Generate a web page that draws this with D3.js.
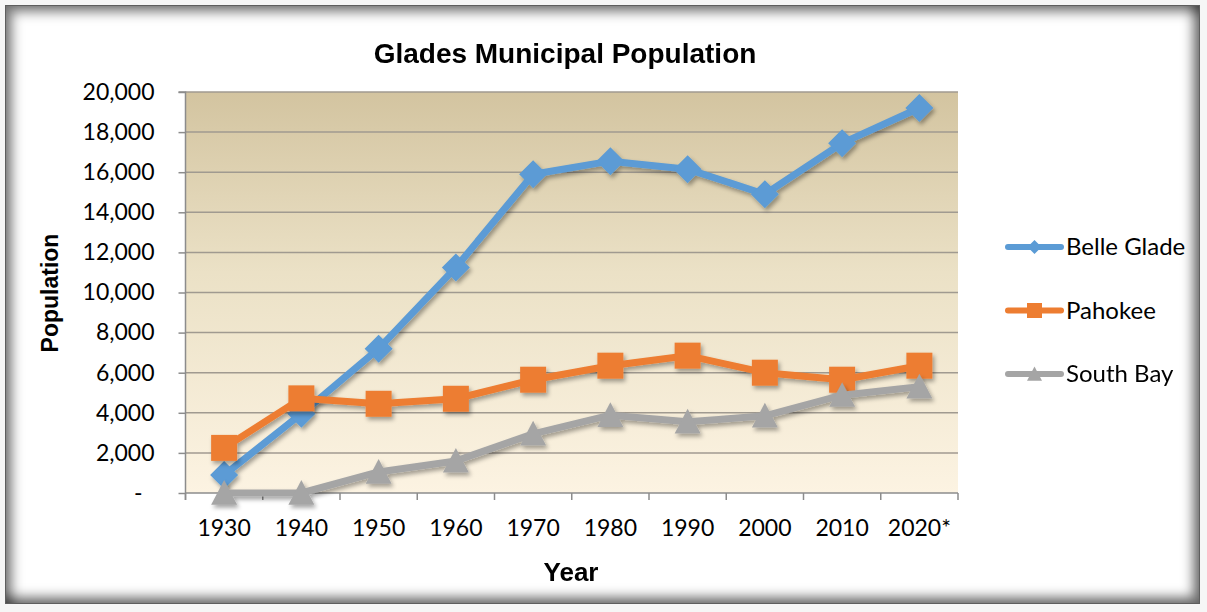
<!DOCTYPE html>
<html>
<head>
<meta charset="utf-8">
<script src="https://cdn.jsdelivr.net/npm/d3@7"></script>
<style>
  body { margin: 0; background: #fff; }
  #wrap { position: relative; width: 1207px; height: 612px; background: #f6f6f6; }
  #frame {
    position: absolute; left: 5px; top: 5px; width: 1193px; height: 597px;
    background: #fff; border: 1px solid #5e5e5e;
    box-shadow: inset 6px 6px 12px rgba(0,0,0,0.5), inset -6px -6px 12px rgba(0,0,0,0.55);
  }
  svg { position: absolute; left: 0; top: 0; }
</style>
</head>
<body>
<div id="wrap"><div id="frame"></div><div id="chart"></div></div>
<script>
const categories = ["1930", "1940", "1950", "1960", "1970", "1980", "1990", "2000", "2010", "2020*"];
const belleGlade = [900, 3950, 7200, 11250, 15900, 16550, 16150, 14900, 17450, 19200];
const pahokee = [2250, 4720, 4450, 4700, 5650, 6350, 6850, 6000, 5650, 6350];
const southBay = [0, 0, 1050, 1600, 2950, 3880, 3550, 3850, 4880, 5300];
const yTicks = [0, 2000, 4000, 6000, 8000, 10000, 12000, 14000, 16000, 18000, 20000];

const series = [
  { name: "Belle Glade", values: belleGlade, color: "#5b9bd5", marker: "diamond" },
  { name: "Pahokee", values: pahokee, color: "#ed7d31", marker: "square" },
  { name: "South Bay", values: southBay, color: "#a5a5a5", marker: "triangle" }
];

const width = 1207, height = 612;
const plot = { left: 185.5, right: 958, top: 92, bottom: 493 };

const svg = d3.select("#chart").append("svg")
  .attr("width", width)
  .attr("height", height);

const defs = svg.append("defs");
const grad = defs.append("linearGradient")
  .attr("id", "bg").attr("x1", 0).attr("y1", 0).attr("x2", 0).attr("y2", 1);
grad.append("stop").attr("offset", "0%").attr("stop-color", "#d3c4a0");
grad.append("stop").attr("offset", "45%").attr("stop-color", "#ebe1c6");
grad.append("stop").attr("offset", "100%").attr("stop-color", "#fcf3e2");

const shadow = defs.append("filter").attr("id", "shadow")
  .attr("x", "-30%").attr("y", "-30%").attr("width", "160%").attr("height", "160%");
shadow.append("feDropShadow")
  .attr("dx", 2).attr("dy", 3).attr("stdDeviation", 2)
  .attr("flood-color", "#000").attr("flood-opacity", 0.35);

const x = d3.scaleBand().domain(categories).range([plot.left, plot.right]);
const y = d3.scaleLinear().domain([0, 20000]).range([plot.bottom, plot.top]);
const cx = c => x(c) + x.bandwidth() / 2;

// plot background
svg.append("rect")
  .attr("x", plot.left).attr("y", plot.top)
  .attr("width", plot.right - plot.left).attr("height", plot.bottom - plot.top)
  .attr("fill", "url(#bg)");

// gridlines
svg.append("g")
  .selectAll("line")
  .data(yTicks.filter(d => d > 0))
  .enter().append("line")
  .attr("x1", plot.left).attr("x2", plot.right)
  .attr("y1", d => y(d)).attr("y2", d => y(d))
  .attr("stroke", "#a09a90").attr("stroke-width", 1.5);

// y axis
const yAxis = d3.axisLeft(y)
  .tickValues(yTicks)
  .tickSize(7)
  .tickPadding(24)
  .tickFormat(d => d === 0 ? "-" : d3.format(",")(d));
const gy = svg.append("g")
  .attr("transform", `translate(${plot.left},0)`)
  .call(yAxis);
gy.select(".domain").attr("stroke", "#8c8c8c").attr("stroke-width", 1.5)
  .attr("d", `M-7,${plot.top}H0V${plot.bottom + 7}`);
gy.selectAll(".tick line").attr("stroke", "#8c8c8c").attr("stroke-width", 1.5);
gy.selectAll(".tick text")
  .attr("font-family", "Lato, 'Open Sans', sans-serif")
  .attr("font-size", 23)
  .attr("fill", "#000")
  .attr("dx", d => d === 0 ? -12 : 0);

// x axis
const gx = svg.append("g")
  .attr("transform", `translate(0,${plot.bottom})`);
gx.append("line")
  .attr("x1", plot.left).attr("x2", plot.right)
  .attr("stroke", "#8c8c8c").attr("stroke-width", 1.5);
gx.selectAll(".xtick")
  .data(categories.concat(["end"]))
  .enter().append("line")
  .attr("x1", (d, i) => i < categories.length ? x(d) : plot.right)
  .attr("x2", (d, i) => i < categories.length ? x(d) : plot.right)
  .attr("y1", 0).attr("y2", 7)
  .attr("stroke", "#8c8c8c").attr("stroke-width", 1.5);
gx.selectAll(".xlabel")
  .data(categories)
  .enter().append("text")
  .attr("x", d => cx(d))
  .attr("y", 43)
  .attr("text-anchor", "middle")
  .attr("font-family", "Lato, 'Open Sans', sans-serif")
  .attr("font-size", 23)
  .text(d => d);

// marker shapes
function markerPath(type, s) {
  if (type === "diamond") return `M0,${-s}L${s},0L0,${s}L${-s},0Z`;
  if (type === "square") return `M${-s},${-s}H${s}V${s}H${-s}Z`;
  return `M0,${-s}L${s},${s * 0.9}H${-s}Z`;
}
const markerSize = { diamond: 14, square: 13, triangle: 13 };

const line = d3.line()
  .x((d, i) => cx(categories[i]))
  .y(d => y(d));

series.forEach(s => {
  const g = svg.append("g").attr("filter", "url(#shadow)");
  g.append("path")
    .datum(s.values)
    .attr("d", line)
    .attr("fill", "none")
    .attr("stroke", s.color)
    .attr("stroke-width", 7)
    .attr("stroke-linejoin", "round");
  g.selectAll("path.m")
    .data(s.values)
    .enter().append("path")
    .attr("class", "m")
    .attr("transform", (d, i) => `translate(${cx(categories[i])},${y(d)})`)
    .attr("d", markerPath(s.marker, markerSize[s.marker]))
    .attr("fill", s.color);
});

// legend
const legend = svg.append("g");
series.forEach((s, i) => {
  const ly = 247 + i * 63.5;
  legend.append("line")
    .attr("x1", 1008).attr("x2", 1061)
    .attr("y1", ly).attr("y2", ly)
    .attr("stroke", s.color).attr("stroke-width", 6)
    .attr("stroke-linecap", "round");
  legend.append("path")
    .attr("transform", `translate(1034.5,${ly})`)
    .attr("d", markerPath(s.marker, s.marker === "diamond" ? 7 : 7.5))
    .attr("fill", s.color);
  legend.append("text")
    .attr("x", 1066).attr("y", ly + 8)
    .attr("font-family", "Lato, 'Open Sans', sans-serif")
    .attr("font-size", 24)
    .text(s.name);
});

// titles
svg.append("text")
  .attr("x", 565).attr("y", 63)
  .attr("text-anchor", "middle")
  .attr("font-family", "'Liberation Sans', Arial, sans-serif")
  .attr("font-weight", "bold")
  .attr("font-size", 28)
  .text("Glades Municipal Population");

svg.append("text")
  .attr("x", 571).attr("y", 581)
  .attr("text-anchor", "middle")
  .attr("font-family", "'Liberation Sans', Arial, sans-serif")
  .attr("font-weight", "bold")
  .attr("font-size", 26)
  .text("Year");

svg.append("text")
  .attr("transform", "translate(58,293) rotate(-90)")
  .attr("text-anchor", "middle")
  .attr("font-family", "'Liberation Sans', Arial, sans-serif")
  .attr("font-weight", "bold")
  .attr("font-size", 23)
  .text("Population");
</script>
</body>
</html>
